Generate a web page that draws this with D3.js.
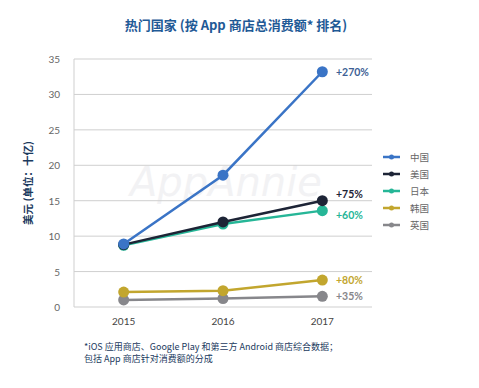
<!DOCTYPE html>
<html>
<head>
<meta charset="utf-8">
<script src="https://cdn.jsdelivr.net/npm/d3@7"></script>
<style>
  body { margin: 0; background: #fff; }
  svg { display: block; font-family: "Noto Sans CJK SC", "Noto Sans", sans-serif; }
</style>
</head>
<body>
<script>
const years = ["2015", "2016", "2017"];
const countries = ["中国", "美国", "日本", "韩国", "英国"];
const china = [8.9, 18.6, 33.2];
const usa = [8.8, 12.0, 15.0];
const japan = [8.7, 11.7, 13.6];
const korea = [2.1, 2.3, 3.8];
const uk = [1.0, 1.2, 1.5];
const growth = ["+270%", "+75%", "+60%", "+80%", "+35%"];
const yTicks = [0, 5, 10, 15, 20, 25, 30, 35];

const colors = ["#3a74c6", "#1d2436", "#26b697", "#c2a62e", "#87878b"];
const labelColors = ["#3d5f95", "#1d2436", "#26b697", "#c2a62e", "#87878b"];
const series = [china, usa, japan, korea, uk].map((v, i) => ({name: countries[i], values: v, color: colors[i], growth: growth[i], labelColor: labelColors[i]}));

const width = 479, height = 388;
const svg = d3.select("body").append("svg").attr("width", width).attr("height", height);

const x = d3.scalePoint().domain(years).range([74, 372]).padding(0.5);
const y = d3.scaleLinear().domain([0, 35]).range([307, 59]);

// title
svg.append("text")
    .attr("x", 236).attr("y", 30)
    .attr("text-anchor", "middle")
    .attr("fill", "#1f5a96").attr("font-size", 13).attr("font-weight", "bold")
    .text("热门国家 (按 App 商店总消费额* 排名)");

// watermark
svg.append("text")
    .attr("x", 130).attr("y", 196)
    .attr("fill", "#f2f2f4").attr("font-size", 40).attr("font-style", "italic")
    .attr("font-family", "DejaVu Sans")
    .text("AppAnnie");

// gridlines
svg.append("g").selectAll("line").data(yTicks).join("line")
    .attr("x1", 74).attr("x2", 372)
    .attr("y1", d => y(d)).attr("y2", d => y(d))
    .attr("stroke", "#cfcfcf").attr("stroke-width", 1);

svg.append("line")
    .attr("x1", 74).attr("x2", 74).attr("y1", y(35)).attr("y2", y(0))
    .attr("stroke", "#cfcfcf");

// y tick labels
svg.append("g").selectAll("text").data(yTicks).join("text")
    .attr("x", 60).attr("y", d => y(d) + 4)
    .attr("text-anchor", "end")
    .attr("fill", "#666").attr("font-size", 10).attr("font-family", "Lato, sans-serif")
    .text(d => d);

// x tick labels
svg.append("g").selectAll("text").data(years).join("text")
    .attr("x", d => x(d)).attr("y", 325)
    .attr("text-anchor", "middle")
    .attr("fill", "#444").attr("font-size", 10).attr("font-family", "Lato, sans-serif")
    .text(d => d);

// y axis title
svg.append("text")
    .attr("transform", "translate(32,183) rotate(-90)")
    .attr("text-anchor", "middle")
    .attr("fill", "#1b3a5e").attr("font-size", 10.5).attr("font-weight", "bold")
    .text("美元 (单位：十亿)");

// lines
const line = d3.line().x((d, i) => x(years[i])).y(d => y(d));
const g = svg.append("g");
series.slice().reverse().forEach(s => {
  g.append("path").datum(s.values)
      .attr("d", line).attr("fill", "none")
      .attr("stroke", s.color).attr("stroke-width", 2.5);
  g.selectAll(null).data(s.values).join("circle")
      .attr("cx", (d, i) => x(years[i])).attr("cy", d => y(d))
      .attr("r", 5.5).attr("fill", s.color);
});

// growth labels
const labelDy = [4, -3, 8, 4, 4];
svg.append("g").selectAll("text").data(series).join("text")
    .attr("x", 336).attr("y", (d, i) => y(d.values[2]) + labelDy[i])
    .attr("fill", d => d.labelColor)
    .attr("font-size", 10.5).attr("font-weight", "bold").attr("font-family", "Lato, sans-serif")
    .text(d => d.growth);

// legend
const leg = svg.append("g").selectAll("g").data(series).join("g")
    .attr("transform", (d, i) => `translate(383,${157 + i * 17})`);
leg.append("line").attr("x1", 0).attr("x2", 17)
    .attr("stroke", d => d.color).attr("stroke-width", 2.5);
leg.append("circle").attr("cx", 8.5).attr("r", 2.5).attr("fill", d => d.color);
leg.append("text").attr("x", 27).attr("y", 3.5)
    .attr("fill", "#666").attr("font-size", 9.5)
    .text(d => d.name);

// footnote
const notes = ["*iOS 应用商店、Google Play 和第三方 Android 商店综合数据；", "包括 App 商店针对消费额的分成"];
svg.append("g").selectAll("text").data(notes).join("text")
    .attr("x", 84).attr("y", (d, i) => 350 + i * 11.5)
    .attr("fill", "#1b3a5e").attr("font-size", 9)
    .text(d => d);
</script>
</body>
</html>
